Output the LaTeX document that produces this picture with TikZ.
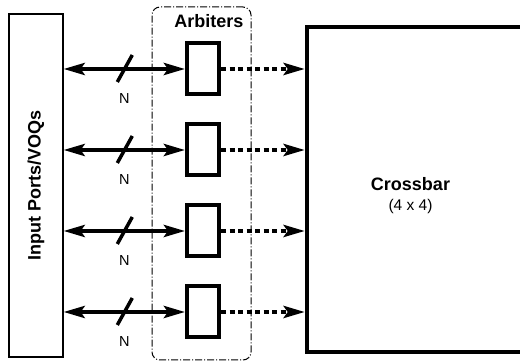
\documentclass[tikz,border=0pt]{standalone}
\usepackage{fontspec}
\setmainfont{Liberation Sans}
\usetikzlibrary{arrows.meta,positioning}

\begin{document}
\begin{tikzpicture}[
    x=1pt, y=1pt,
    node distance=26pt,
    ports/.style={draw, line width=1.2pt, minimum width=54pt, minimum height=343pt, inner sep=0pt, font=\fontsize{18}{22}\selectfont\bfseries},
    group/.style={draw, line width=1pt, rounded corners=8pt, dash pattern=on 7pt off 2pt on 1pt off 2pt, minimum width=99pt, minimum height=353pt},
    arbiter/.style={draw, line width=4pt, minimum width=32pt, minimum height=51pt, inner sep=0pt},
    xbar/.style={draw, line width=4.5pt, minimum width=223pt, minimum height=325pt},
    bus/.style={inner sep=0pt, minimum size=0pt, label={[font=\fontsize{14.5}{17}\selectfont, inner sep=0pt, label distance=21pt]below:N}},
    title/.style={font=\fontsize{18}{22}\selectfont\bfseries},
    link/.style={<->, line width=4pt},
    grant/.style={->, line width=4pt, dash pattern=on 5pt off 3.5pt},
    slash/.style={line width=3.5pt},
    >={Stealth[length=21pt, width=12pt, inset=4pt]}
]
    \useasboundingbox (0,0) rectangle (520,361);

    \node[group] (arb) at (201.5,177.5) {};
    \node[title] (arbtitle) at (209,340) {Arbiters};
    \node[ports] (ports) at (36,175.5) {\rotatebox{90}{Input Ports/VOQs}};
    \node[xbar, label={[name=xbartext, align=center, xshift=-8pt, yshift=-6pt, font=\fontsize{15.5}{20.5}\selectfont]center:{\fontsize{18}{20.5}\selectfont\bfseries Crossbar}\\(4 x 4)}] (xbar) at (418.5,171.5) {};

    \node[arbiter] (a1) at (203,292) {};
    \node[arbiter, below=of a1] (a2) {};
    \node[arbiter, below=of a2] (a3) {};
    \node[arbiter, below=of a3] (a4) {};

    \path[link]
        (ports.east |- a1) edge node[bus] (b1) {} (a1)
        (ports.east |- a2) edge node[bus] (b2) {} (a2)
        (ports.east |- a3) edge node[bus] (b3) {} (a3)
        (ports.east |- a4) edge node[bus] (b4) {} (a4);

    \draw[slash] ([shift={(-7,-13)}]b1.center) -- ([shift={(8,14)}]b1.center);
    \draw[slash] ([shift={(-7,-13)}]b2.center) -- ([shift={(8,14)}]b2.center);
    \draw[slash] ([shift={(-7,-13)}]b3.center) -- ([shift={(8,14)}]b3.center);
    \draw[slash] ([shift={(-7,-13)}]b4.center) -- ([shift={(8,14)}]b4.center);

    \path[grant]
        (a1) edge (a1 -| xbar.west)
        (a2) edge (a2 -| xbar.west)
        (a3) edge (a3 -| xbar.west)
        (a4) edge (a4 -| xbar.west);
\end{tikzpicture}
\end{document}
